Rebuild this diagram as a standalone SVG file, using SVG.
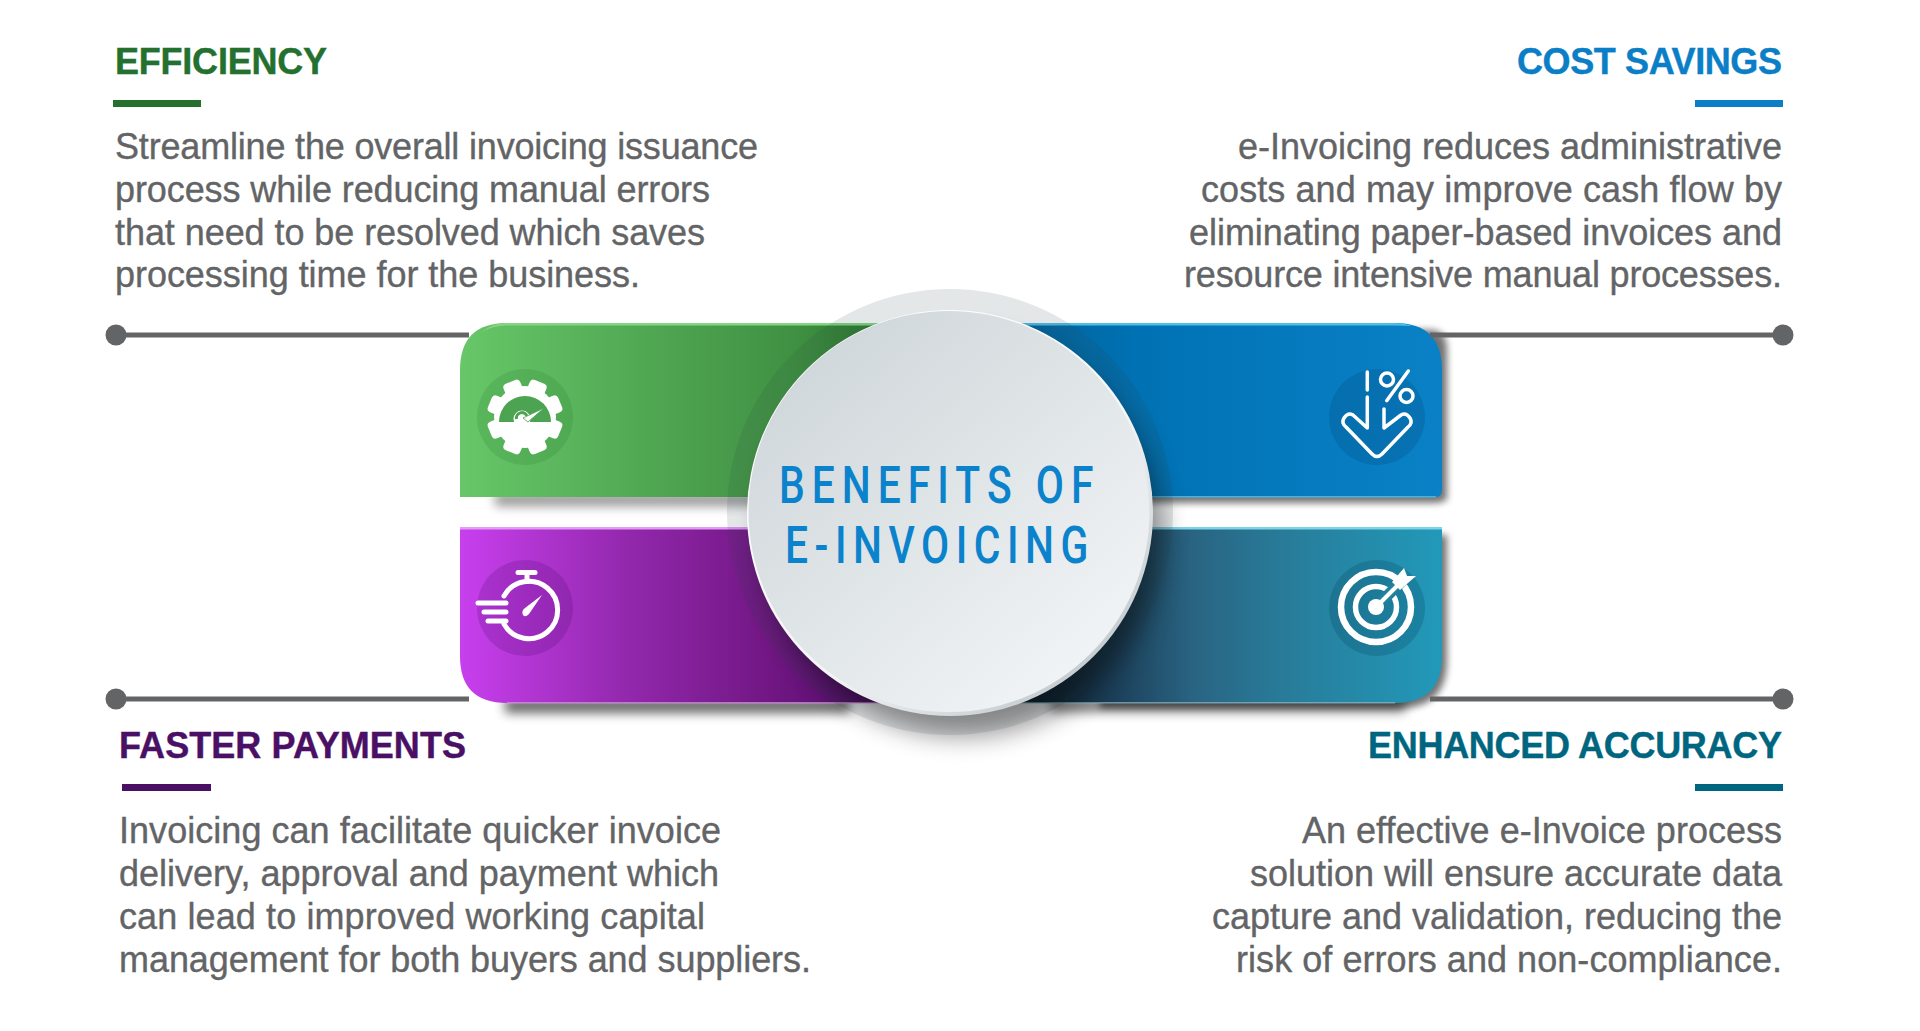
<svg xmlns="http://www.w3.org/2000/svg" width="1920" height="1031" viewBox="0 0 1920 1031">
<style>
.h{font-family:"Liberation Sans",Arial,sans-serif;font-weight:700;font-size:36px;stroke-width:.4px}
.b{font-family:"Liberation Sans",Arial,sans-serif;font-size:36px;fill:#636466;stroke:#636466;stroke-width:.35px}
.e{text-anchor:end}
.c{font-family:Roboto,"Liberation Sans",sans-serif;font-size:51px;font-weight:500;fill:#0a82cc}
.ln{stroke:#636466;stroke-width:5;fill:none}
.w{stroke:#fff;fill:none;stroke-linecap:round;stroke-linejoin:round}
</style>
<defs>
<linearGradient id="gG" gradientUnits="userSpaceOnUse" x1="460" y1="0" x2="880" y2="0"><stop offset="0" stop-color="#67c768"/><stop offset=".55" stop-color="#4ba04e"/><stop offset=".8" stop-color="#3f9141"/><stop offset="1" stop-color="#2b762c"/></linearGradient>
<linearGradient id="gB" gradientUnits="userSpaceOnUse" x1="1442" y1="0" x2="1040" y2="0"><stop offset="0" stop-color="#0a81c6"/><stop offset=".75" stop-color="#0072b4"/><stop offset="1" stop-color="#00659f"/></linearGradient>
<linearGradient id="gP" gradientUnits="userSpaceOnUse" x1="460" y1="0" x2="880" y2="0"><stop offset="0" stop-color="#c83fee"/><stop offset=".4" stop-color="#9228ac"/><stop offset=".75" stop-color="#701682"/><stop offset="1" stop-color="#4f0e66"/></linearGradient>
<linearGradient id="gT" gradientUnits="userSpaceOnUse" x1="1442" y1="0" x2="1040" y2="0"><stop offset="0" stop-color="#2299b9"/><stop offset=".4" stop-color="#287b99"/><stop offset=".62" stop-color="#296482"/><stop offset=".8" stop-color="#1d425c"/><stop offset="1" stop-color="#0f2434"/></linearGradient>
<linearGradient id="gRim" x1=".15" y1=".1" x2=".85" y2=".9"><stop offset="0" stop-color="#fff"/><stop offset=".6" stop-color="#f3f5f6"/><stop offset="1" stop-color="#c3cacd"/></linearGradient>
<linearGradient id="gFace" x1=".15" y1=".1" x2=".85" y2=".9"><stop offset="0" stop-color="#d0d7da"/><stop offset="1" stop-color="#f1f4f6"/></linearGradient>
<filter id="s6" x="-20%" y="-150%" width="140%" height="400%"><feGaussianBlur stdDeviation="5.500"/></filter>
<filter id="s3" x="-20%" y="-40%" width="140%" height="180%"><feGaussianBlur stdDeviation="3.5"/></filter>
<filter id="s10" x="-20%" y="-20%" width="140%" height="140%"><feGaussianBlur stdDeviation="13"/></filter>
<rect id="tooth" x="516" y="379" width="18" height="16" rx="4" fill="#fff"/>
</defs>

<g id="band-shadows" fill="#000">
<rect x="495" y="493" width="320" height="13" opacity=".42" filter="url(#s6)"/>
<path d="M1100 330H1430Q1447 330 1447 350V498Q1447 503 1430 503H1100Z" opacity=".55" filter="url(#s3)"/>
<path d="M1100 535H1447V660Q1447 708 1400 708H1100Z" opacity=".55" filter="url(#s3)"/>
<rect x="505" y="698" width="345" height="15" opacity=".6" filter="url(#s6)"/>
<rect x="1050" y="698" width="355" height="14" opacity=".5" filter="url(#s6)"/>
</g>

<g id="band-efficiency">
<path d="M460 497V370Q460 323 507 323H900V497Z" fill="url(#gG)"/>
<path d="M482 332Q492 323 507 323H900V325.500H507Q492 325.500 482 332Z" fill="#84d584"/>
<circle cx="525" cy="417" r="48" fill="#0f5a14" opacity=".13"/>
<g id="icon-gauge">
<use href="#tooth" transform="rotate(22.5 525 417)"/><use href="#tooth" transform="rotate(67.5 525 417)"/><use href="#tooth" transform="rotate(112.5 525 417)"/><use href="#tooth" transform="rotate(157.5 525 417)"/><use href="#tooth" transform="rotate(202.5 525 417)"/><use href="#tooth" transform="rotate(247.500 525 417)"/><use href="#tooth" transform="rotate(292.500 525 417)"/><use href="#tooth" transform="rotate(337.500 525 417)"/>
<circle cx="525" cy="417" r="31" fill="#fff"/>
<path d="M499 422A26 26 0 0 1 551 422Z" fill="#4ca351"/>
<circle cx="522" cy="419" r="8.500" fill="#fff"/>
<path d="M516.500 419A5.500 5.500 0 0 1 527 416" stroke="#4ca351" stroke-width="3" fill="none"/>
<path d="M523 418L544 408L528 422Z" fill="#fff" stroke="#4ca351" stroke-width=".8"/>
</g>
</g>

<g id="band-savings">
<path d="M1000 323H1395Q1442 323 1442 370V490Q1442 497 1435 497H1000Z" fill="url(#gB)"/>
<path d="M1000 323H1395Q1404 323 1412 326Q1404 325.500 1395 325.500H1000Z" fill="#4fbfe8"/>
<rect x="1000" y="496" width="436" height="1.500" fill="#49b2e0"/>
<circle cx="1377" cy="417" r="48" fill="#003e70" opacity=".2"/>
<g id="icon-percent" class="w" stroke-width="3.500">
<path d="M1367.300 372V390"/>
<path d="M1367.300 397V428L1353 415Q1348 412 1344 418Q1341 423 1346 427L1372 454Q1377 459 1382 454L1408 427Q1413 423 1410 418Q1406 412 1401 415L1384 428V409"/>
<path d="M1408.300 371L1386.700 400.700"/>
<circle cx="1387" cy="379.500" r="6.500"/>
<circle cx="1406.500" cy="396" r="6.500"/>
</g>
</g>

<g id="band-payments">
<path d="M460 527H900V703H507Q460 703 460 656Z" fill="url(#gP)"/>
<rect x="460" y="527" width="440" height="2.500" fill="#e59af7"/>
<rect x="507" y="702" width="400" height="1.500" fill="#d79ae6" opacity=".7"/>
<circle cx="525" cy="608" r="48" fill="#3c0060" opacity=".18"/>
<g id="icon-stopwatch">
<g class="w" stroke-width="5">
<path d="M504 596A28.650 28.650 0 1 1 504 624"/>
<path d="M478 603H506M484 612H506M488 621H506"/>
<path d="M518 572.500H535"/>
</g>
<path d="M527 575V584" stroke="#fff" stroke-width="5"/>
<path d="M542 595L529 614Q525 618 523 615Q521 611 525 608Z" fill="#fff"/>
</g>
</g>

<g id="band-accuracy">
<path d="M1000 527H1442V656Q1442 703 1395 703H1000Z" fill="url(#gT)"/>
<rect x="1000" y="527" width="442" height="2.500" fill="#7fd3e6"/>
<rect x="1000" y="702" width="395" height="1.500" fill="#8fb8c8" opacity=".7"/>
<circle cx="1377" cy="608" r="48" fill="#003a55" opacity=".22"/>
<g id="icon-target">
<circle cx="1376" cy="607" r="35" stroke="#fff" stroke-width="6.500" fill="none"/>
<circle cx="1376" cy="607" r="20.500" stroke="#fff" stroke-width="5.500" fill="none"/>
<path d="M1382 601L1408 575" stroke="#21809e" stroke-width="11"/>
<circle cx="1376" cy="607" r="8" fill="#fff"/>
<path d="M1376 607L1402 581" stroke="#fff" stroke-width="4"/>
<path d="M1404 568L1407 576H1416L1400 590L1392 582Z" fill="#fff"/>
</g>
</g>

<g id="connectors" class="ln">
<path class="ln" d="M116 335H469"/>
<path class="ln" d="M1783 335H1430"/>
<path class="ln" d="M116 699H469"/>
<path class="ln" d="M1783 699H1430"/>
<circle cx="116" cy="335" r="10.500" fill="#636466" stroke="none"/>
<circle cx="1783" cy="335" r="10.500" fill="#636466" stroke="none"/>
<circle cx="116" cy="699" r="10.500" fill="#636466" stroke="none"/>
<circle cx="1783" cy="699" r="10.500" fill="#636466" stroke="none"/>
</g>

<g id="center">
<circle cx="950" cy="512" r="223" fill="#2b4450" opacity=".13"/>
<circle cx="962" cy="536" r="200" fill="#000" opacity=".42" filter="url(#s10)"/>
<circle cx="950" cy="513" r="203" fill="url(#gRim)"/>
<circle cx="949" cy="511.500" r="200.500" fill="url(#gFace)"/>
<text class="c" transform="translate(779 503) scale(.8 1)" textLength="393" lengthAdjust="spacing">BENEFITS OF</text>
<text class="c" transform="translate(785 563) scale(.8 1)" textLength="379" lengthAdjust="spacing">E-INVOICING</text>
</g>

<g id="efficiency">
<text class="h" x="115" y="74" fill="#23702f" stroke="#23702f" textLength="212">EFFICIENCY</text>
<rect x="113" y="100" width="88" height="7" fill="#23702f"/>
<text class="b" x="115" y="159" textLength="643">Streamline the overall invoicing issuance</text>
<text class="b" x="115" y="202" textLength="595">process while reducing manual errors</text>
<text class="b" x="115" y="245" textLength="590">that need to be resolved which saves</text>
<text class="b" x="115" y="287" textLength="525">processing time for the business.</text>
</g>
<g id="cost-savings">
<text class="h e" x="1782" y="74" fill="#0a7ec6" stroke="#0a7ec6" textLength="265">COST SAVINGS</text>
<rect x="1695" y="100" width="88" height="7" fill="#0a7ec6"/>
<text class="b e" x="1782" y="159" textLength="544">e-Invoicing reduces administrative</text>
<text class="b e" x="1782" y="202" textLength="581">costs and may improve cash flow by</text>
<text class="b e" x="1782" y="245" textLength="593">eliminating paper-based invoices and</text>
<text class="b e" x="1782" y="287" textLength="598">resource intensive manual processes.</text>
</g>
<g id="faster-payments">
<text class="h" x="119" y="758" fill="#4a1065" stroke="#4a1065" textLength="347">FASTER PAYMENTS</text>
<rect x="122" y="784" width="89" height="7" fill="#4a1065"/>
<text class="b" x="119" y="843" textLength="602">Invoicing can facilitate quicker invoice</text>
<text class="b" x="119" y="886" textLength="600">delivery, approval and payment which</text>
<text class="b" x="119" y="929" textLength="586">can lead to improved working capital</text>
<text class="b" x="119" y="971.500" textLength="692">management for both buyers and suppliers.</text>
</g>
<g id="enhanced-accuracy">
<text class="h e" x="1782" y="758" fill="#00667f" stroke="#00667f" textLength="414">ENHANCED ACCURACY</text>
<rect x="1695" y="784" width="88" height="7" fill="#00667f"/>
<text class="b e" x="1782" y="843" textLength="480">An effective e-Invoice process</text>
<text class="b e" x="1782" y="886" textLength="532">solution will ensure accurate data</text>
<text class="b e" x="1782" y="929" textLength="570">capture and validation, reducing the</text>
<text class="b e" x="1782" y="971.500" textLength="546">risk of errors and non-compliance.</text>
</g>
</svg>
